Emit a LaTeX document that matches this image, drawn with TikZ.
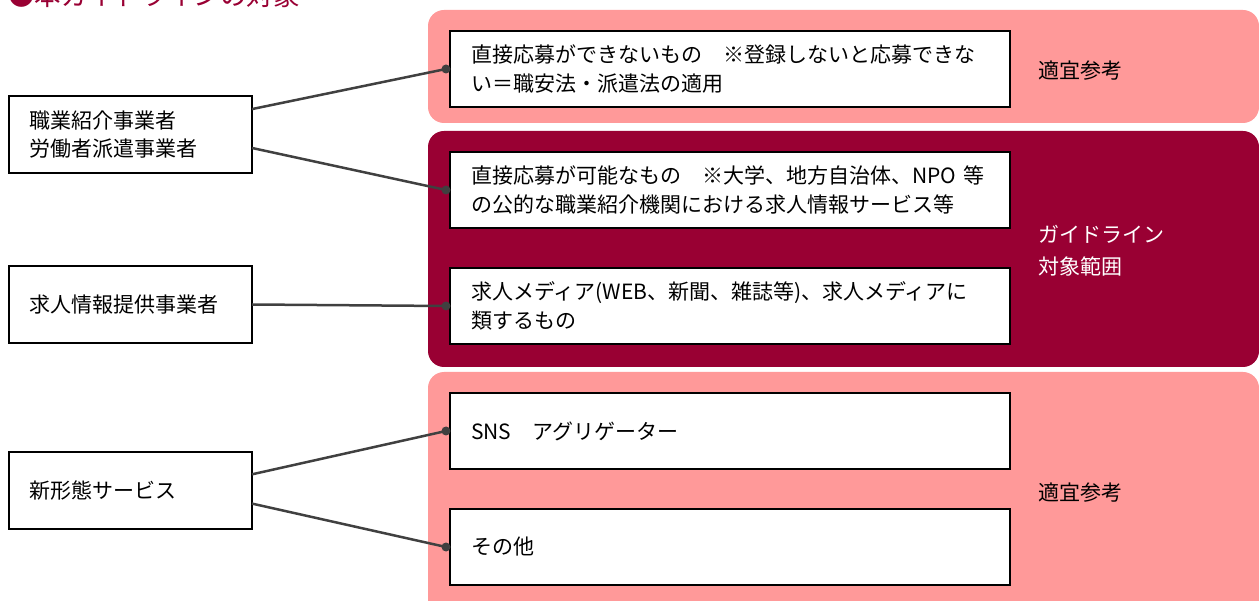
\documentclass[tikz,border=0pt]{standalone}
\usepackage{fontspec}
\setmainfont{Noto Sans CJK JP}
\usetikzlibrary{calc}
\definecolor{panelpink}{HTML}{FF9999}
\definecolor{paneldark}{HTML}{990033}
\definecolor{linegray}{HTML}{404040}
\begin{document}
\begin{tikzpicture}[x=1pt,y=-1pt,
  font=\fontsize{21}{28.5}\selectfont,
  item/.style={draw=black, line width=2pt, fill=white, rectangle,
    minimum width=560pt, minimum height=76pt, text width=518pt,
    inner xsep=21pt, inner ysep=0pt, outer sep=0pt, align=left, anchor=north west},
  src/.style={draw=black, line width=2pt, fill=white, rectangle,
    minimum width=243pt, minimum height=77pt, text width=201pt,
    inner xsep=21pt, inner ysep=0pt, outer sep=0pt, align=left, anchor=north west},
  link/.style={draw=linegray, line width=2.5pt},
  dotmark/.style={circle, fill=linegray, inner sep=0pt, minimum size=9pt},
  side/.style={anchor=west, inner sep=0pt, align=left}]
\useasboundingbox (0,0) rectangle (1259,601);

% panels
\fill[panelpink, rounded corners=16pt] (428,10) rectangle (1259,123);
\fill[paneldark, rounded corners=16pt] (428,131) rectangle (1259,367);
\fill[panelpink, rounded corners=16pt] (428,372) rectangle (1259,616);

% title
\node[anchor=base west, inner sep=0pt, text=paneldark,
  font=\fontsize{26.5}{30}\selectfont] (title) at (8,6) {●本ガイドラインの対象};

% items
\node[item] (b1) at (450,31) {直接応募ができないもの　※登録しないと応募できな\\い＝職安法・派遣法の適用};
\node[item] (b2) at (450,152) {直接応募が可能なもの　※大学、地方自治体、NPO 等\\の公的な職業紹介機関における求人情報サービス等};
\node[item] (b3) at (450,268) {求人メディア(WEB、新聞、雑誌等)、求人メディアに\\類するもの};
\node[item] (b4) at (450,393) {SNS　アグリゲーター};
\node[item] (b5) at (450,509) {その他};

% sources
\node[src] (l1) at (9,96) {職業紹介事業者\\労働者派遣事業者};
\node[src] (l2) at (9,266) {求人情報提供事業者};
\node[src] (l3) at (9,452) {新形態サービス};

% side labels
\node[side] (r1) at (1038,71) {適宜参考};
\node[side, text=white, font=\fontsize{21}{32}\selectfont] (r2) at (1038,251) {ガイドライン\\対象範囲};
\node[side] (r3) at (1038,493) {適宜参考};

% connector end points
\coordinate (s1a) at ($(l1.north east)!0.17!(l1.south east)$);
\coordinate (s1b) at ($(l1.north east)!0.675!(l1.south east)$);
\coordinate (s3a) at ($(l3.north east)!0.29!(l3.south east)$);
\coordinate (s3b) at ($(l3.north east)!0.67!(l3.south east)$);

\node[dotmark] (d1) at ([xshift=-4pt]b1.west) {};
\node[dotmark] (d2) at ([xshift=-4pt]b2.west) {};
\node[dotmark] (d3) at ([xshift=-4pt]b3.west) {};
\node[dotmark] (d4) at ([xshift=-4pt]b4.west) {};
\node[dotmark] (d5) at ([xshift=-4pt]b5.west) {};

\draw[link] (s1a) -- (d1.center);
\draw[link] (s1b) -- (d2.center);
\draw[link] (l2.east) -- (d3.center);
\draw[link] (s3a) -- (d4.center);
\draw[link] (s3b) -- (d5.center);
\end{tikzpicture}
\end{document}
